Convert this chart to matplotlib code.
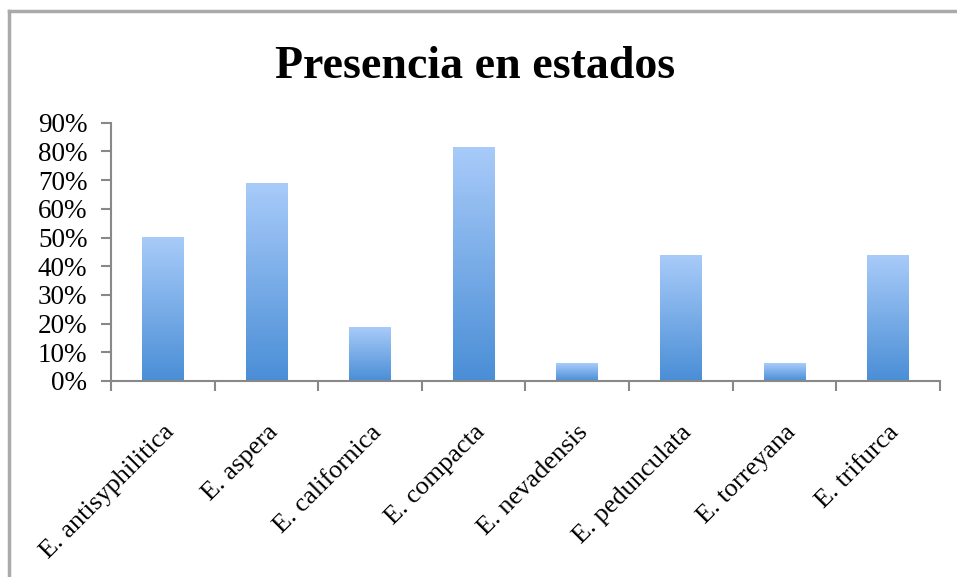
import numpy as np
import matplotlib.pyplot as plt
from matplotlib.colors import LinearSegmentedColormap
from matplotlib.lines import Line2D
from matplotlib.ticker import PercentFormatter

especies = ['E. antisyphilitica', 'E. aspera', 'E. californica', 'E. compacta',
            'E. nevadensis', 'E. pedunculata', 'E. torreyana', 'E. trifurca']
presencia = [50.0, 68.75, 18.75, 81.25, 6.25, 43.75, 6.25, 43.75]

plt.rcParams['font.family'] = ['Liberation Serif', 'DejaVu Serif']

fig = plt.figure(figsize=(9.57, 5.77), dpi=100)
ax = fig.add_axes([0.116, 0.3397, 0.866, 0.4476])

# marco gris exterior
fig.add_artist(Line2D([9/957, 1], [1-11/577, 1-11/577], color='#aaaaaa', lw=2.5))
fig.add_artist(Line2D([9/957, 9/957], [0, 1-11/577], color='#aaaaaa', lw=2.5))

# barras con degradado
cmap = LinearSegmentedColormap.from_list('azul', ['#4a8ed6', '#a8cbf9'])
grad = np.linspace(0, 1, 256).reshape(-1, 1)
ancho = 0.4
x = np.arange(len(especies))
for xi, v in zip(x, presencia):
    ax.imshow(grad, cmap=cmap, origin='lower', aspect='auto',
              extent=(xi - ancho/2, xi + ancho/2, 0, v), zorder=2)

ax.set_xlim(-0.5, len(especies) - 0.5)
ax.set_ylim(0, 90)
ax.set_yticks(np.arange(0, 91, 10))
ax.yaxis.set_major_formatter(PercentFormatter(decimals=0))

ax.set_xticks(x)
ax.set_xticklabels(especies, rotation=45, ha='right', rotation_mode='anchor', fontsize=19)
ax.set_xticks(np.arange(-0.5, len(especies)), minor=True)
ax.tick_params(axis='x', which='major', length=0, pad=29)
ax.tick_params(axis='x', which='minor', length=7, color='#888888', width=1.5, direction='out')
ax.tick_params(axis='y', length=7, color='#888888', width=1.5, labelsize=19.5, pad=10)

for s in ['top', 'right']:
    ax.spines[s].set_visible(False)
for s in ['left', 'bottom']:
    ax.spines[s].set_color('#888888')
    ax.spines[s].set_linewidth(1.5)

fig.text(475/957, 1-67/577, 'Presencia en estados', ha='center', va='center',
         fontsize=33, fontweight='bold')

fig.savefig('out.png', dpi=100)
